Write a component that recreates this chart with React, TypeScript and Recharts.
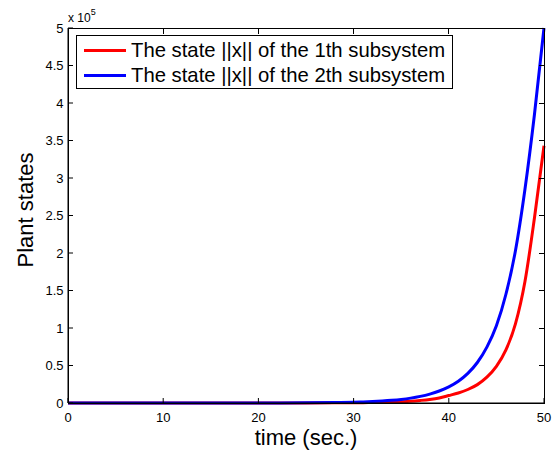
import React from 'react'
import { LineChart, Line, XAxis, YAxis, Legend } from 'recharts'

// sample times (sec.)
const times = [0, 5, 10, 15, 20, 25, 28, 30, 31, 32, 33, 34, 35, 36, 37, 38, 39, 40, 41, 42, 43, 44, 45, 46, 47, 48, 49, 50]
// ||x|| of subsystem 1 and 2, in units of 10^5
const stateSub1 = [0, 0, 0, 0, 0, 0.0006, 0.0018, 0.0034, 0.0047, 0.0065, 0.009, 0.0126, 0.0175, 0.024, 0.034, 0.047, 0.067, 0.099, 0.133, 0.18, 0.245, 0.344, 0.488, 0.707, 1.055, 1.62, 2.47, 3.43]
const stateSub2 = [0, 0, 0, 0, 0.0005, 0.0024, 0.006, 0.011, 0.015, 0.02, 0.027, 0.036, 0.048, 0.065, 0.088, 0.119, 0.16, 0.215, 0.29, 0.395, 0.54, 0.745, 1.03, 1.45, 2.03, 2.85, 3.85, 5.0]
const xTicks = [0, 10, 20, 30, 40, 50]
const yTicks = [0, 0.5, 1, 1.5, 2, 2.5, 3, 3.5, 4, 4.5, 5]
const xDomain = [0, 50]
const yDomain = [0, 5]
const seriesNames = ['The state ||x|| of the 1th subsystem', 'The state ||x|| of the 2th subsystem']

const data = times.map((t, i) => ({ t, s1: stateSub1[i], s2: stateSub2[i] }))

const W = 555
const H = 451
const margin = { top: 28, right: 11, left: 0, bottom: 0 }
const yAxisWidth = 68
const xAxisHeight = 48
const plotTop = margin.top
const plotLeft = margin.left + yAxisWidth
const plotW = W - margin.right - plotLeft
const plotH = H - margin.bottom - xAxisHeight - plotTop
const font = '"Liberation Sans", Arial, Helvetica, sans-serif'
const tickStyle = { fill: '#000', fontSize: 13, fontFamily: font }

function LegendBox({ payload }: any) {
  return (
    <div style={{ display: 'inline-block', border: '1px solid #000', background: '#fff', padding: '2px 7px 0 7px', fontFamily: font, fontSize: 20.3, color: '#000' }}>
      {(payload || []).map((p: any) => (
        <div key={p.value} style={{ height: 25, display: 'flex', alignItems: 'center', whiteSpace: 'nowrap' }}>
          <div style={{ width: 42, height: 3, background: p.color, marginRight: 5 }} />
          <span>{p.value}</span>
        </div>
      ))}
    </div>
  )
}

// closed box round the plot with the mirrored inward ticks on top and right
function AxesBox() {
  return (
    <div style={{ position: 'absolute', left: plotLeft - 0.5, top: plotTop - 0.5, width: plotW + 1, height: plotH + 1, boxSizing: 'border-box', border: '1px solid #000', pointerEvents: 'none' }}>
      {xTicks.map(t => (
        <div key={'x' + t} style={{ position: 'absolute', top: 0, width: 1, height: 5, background: '#000',
          left: ((t - xDomain[0]) / (xDomain[1] - xDomain[0])) * plotW - 1 }} />
      ))}
      {yTicks.map(v => (
        <div key={'y' + v} style={{ position: 'absolute', right: 0, width: 5, height: 1, background: '#000',
          top: (1 - (v - yDomain[0]) / (yDomain[1] - yDomain[0])) * plotH - 1 }} />
      ))}
    </div>
  )
}

export default function App() {
  return (
    <div style={{ position: 'absolute', left: 0, top: 0, width: W, height: H, background: '#fff' }}>
      <LineChart width={W} height={H} data={data} margin={margin}>
        <XAxis dataKey="t" type="number" domain={xDomain} ticks={xTicks} height={xAxisHeight}
          stroke="#000" tick={tickStyle} tickSize={-5} tickMargin={15} />
        <YAxis type="number" domain={yDomain} ticks={yTicks} width={yAxisWidth} interval={0}
          stroke="#000" tick={tickStyle} tickSize={-5} tickMargin={9.5} />
        <Legend layout="horizontal" verticalAlign="middle" align="center" content={<LegendBox />}
          wrapperStyle={{ left: 76, top: 35, width: 'auto', height: 'auto' }} />
        <Line type="monotone" dataKey="s1" name={seriesNames[0]} stroke="#ff0000" strokeWidth={3} dot={false} isAnimationActive={false} />
        <Line type="monotone" dataKey="s2" name={seriesNames[1]} stroke="#0000ff" strokeWidth={3} dot={false} isAnimationActive={false} />
        <text x={68} y={22} fontSize={12} fontFamily={font} fill="#000">x 10<tspan dy={-7} fontSize={9}>5</tspan></text>
        <text x={33} y={210} transform="rotate(-90 33 210)" textAnchor="middle" fontSize={22} fontFamily={font} fill="#000">Plant states</text>
        <text x={306} y={445} textAnchor="middle" fontSize={22} fontFamily={font} fill="#000">time (sec.)</text>
      </LineChart>
      <AxesBox />
    </div>
  )
}
